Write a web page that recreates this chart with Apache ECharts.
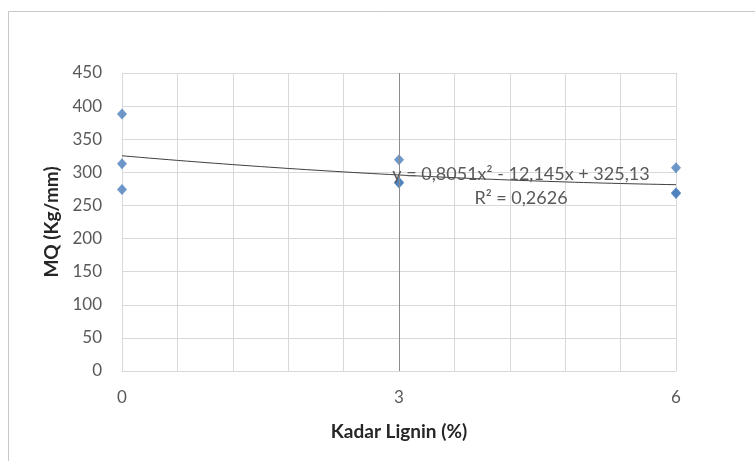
<!DOCTYPE html>
<html>
<head>
<meta charset="utf-8">
<script src="https://cdn.jsdelivr.net/npm/echarts@6/dist/echarts.min.js"></script>
<style>html,body{margin:0;padding:0;background:#fff}#c{width:755px;height:461px}</style>
</head>
<body>
<div id="c"></div>
<script>
// Data
const xLevels = [0, 3, 6];
const mq0 = [388, 313, 274];
const mq3 = [319, 284, 285];
const mq6 = [307, 269, 268];
const xTicks = [0, 3, 6];
const yTicks = [0, 50, 100, 150, 200, 250, 300, 350, 400, 450];
const equationText = 'y = 0,8051x² - 12,145x + 325,13';
const r2Text = 'R² = 0,2626';

const groups = [mq0, mq3, mq6];
const points = [];
groups.forEach((g, i) => g.forEach(v => points.push([xLevels[i], v])));

// least-squares quadratic fit of the points (trendline)
function fitQuad(pts) {
  let S = [[0,0,0],[0,0,0],[0,0,0]], B = [0,0,0];
  pts.forEach(([x, y]) => {
    const p = [1, x, x*x];
    for (let i = 0; i < 3; i++) { B[i] += p[i]*y; for (let j = 0; j < 3; j++) S[i][j] += p[i]*p[j]; }
  });
  const A = S.map((r, i) => r.concat([B[i]]));
  for (let i = 0; i < 3; i++) {
    for (let k = i+1; k < 3; k++) {
      const f = A[k][i]/A[i][i];
      for (let j = i; j < 4; j++) A[k][j] -= f*A[i][j];
    }
  }
  const c = [0,0,0];
  for (let i = 2; i >= 0; i--) {
    let s = A[i][3];
    for (let j = i+1; j < 3; j++) s -= A[i][j]*c[j];
    c[i] = s/A[i][i];
  }
  return c;
}
const coef = fitQuad(points);
const trend = [];
for (let i = 0; i <= 60; i++) {
  const x = i/10;
  trend.push([x, coef[0] + coef[1]*x + coef[2]*x*x]);
}

const tickColor = '#595959';
const font = 'Lato, "Open Sans", sans-serif';
const chart = echarts.init(document.getElementById('c'), null, {renderer: 'canvas'});
chart.setOption({
  animation: false,
  backgroundColor: '#fff',
  grid: {left: 122, right: 79, top: 73, bottom: 90, containLabel: false},
  xAxis: {
    type: 'value', min: 0, max: 6, interval: 0.6,
    name: 'Kadar Lignin (%)', nameLocation: 'middle', nameGap: 51,
    nameTextStyle: {fontFamily: font, fontSize: 19, fontWeight: 'bold', color: '#262626'},
    axisLine: {show: true, lineStyle: {color: '#d9d9d9'}},
    axisTick: {show: false},
    splitLine: {show: true, lineStyle: {color: '#d9d9d9', width: 1}},
    axisLabel: {
      fontFamily: font, fontSize: 17, color: tickColor, margin: 18,
      formatter: v => {
        const r = Math.round(v);
        return (Math.abs(v - r) < 1e-6 && xTicks.indexOf(r) >= 0) ? String(r) : '';
      }
    }
  },
  yAxis: {
    type: 'value', min: yTicks[0], max: yTicks[yTicks.length-1], interval: 50,
    name: 'MQ (Kg/mm)', nameLocation: 'middle', nameGap: 59, nameRotate: 90,
    nameTextStyle: {fontFamily: font, fontSize: 19, fontWeight: 'bold', color: '#262626'},
    axisLine: {show: false},
    axisTick: {show: false},
    splitLine: {show: true, lineStyle: {color: '#d9d9d9', width: 1}},
    axisLabel: {fontFamily: font, fontSize: 17, color: tickColor, margin: 20}
  },
  series: [
    {
      type: 'line', data: trend, showSymbol: false, symbol: 'none', smooth: false,
      lineStyle: {color: '#404040', width: 1}, z: 3,
      markLine: {
        silent: true, symbol: 'none', label: {show: false},
        lineStyle: {color: '#8c8c8c', type: 'solid', width: 1},
        data: [{xAxis: xLevels[1]}]
      }
    },
    {
      type: 'scatter', data: points, symbol: 'diamond', symbolSize: [10, 11],
      itemStyle: {color: '#4a7ebb'}, z: 4
    }
  ],
  graphic: [
    {type: 'rect', shape: {x: 8.5, y: 11.5, width: 900, height: 600}, style: {fill: 'none', stroke: '#c8c8c8', lineWidth: 1}, z: -1},
    {type: 'text', x: 521, y: 174, style: {text: equationText, fontFamily: font, fontSize: 18, fill: tickColor, align: 'center', verticalAlign: 'middle'}, z: 10},
    {type: 'text', x: 521, y: 198, style: {text: r2Text, fontFamily: font, fontSize: 18, fill: tickColor, align: 'center', verticalAlign: 'middle'}, z: 10}
  ]
});
</script>
</body>
</html>
